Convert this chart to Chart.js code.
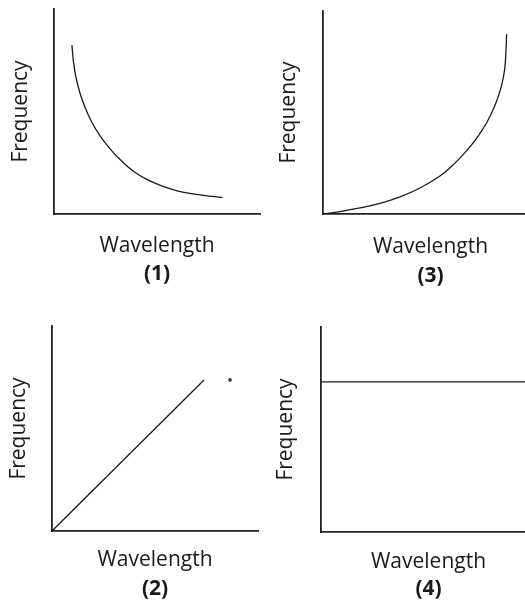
<!DOCTYPE html>
<html>
<head>
<meta charset="utf-8">
<script src="https://cdn.jsdelivr.net/npm/chart.js@4.4.1/dist/chart.umd.min.js"></script>
<style>
  html, body { margin: 0; padding: 0; background: #fff; overflow: hidden; }
  #wrap { position: relative; width: 525px; height: 600px; overflow: hidden; }
  canvas { position: absolute; }
</style>
</head>
<body>
<div id="wrap">
  <canvas id="c1" width="262" height="300" style="left:0;top:0"></canvas>
  <canvas id="c3" width="276" height="300" style="left:262px;top:0"></canvas>
  <canvas id="c2" width="262" height="300" style="left:0;top:300px"></canvas>
  <canvas id="c4" width="274" height="300" style="left:262px;top:300px"></canvas>
</div>
<script>
// (1) frequency falls off as wavelength grows
const wave1 = [0.87, 0.94, 1.06, 1.25, 1.50, 1.83, 2.23, 2.70, 3.23, 3.82, 4.48, 5.23, 6.02, 6.83, 7.65, 8.18];
const freq1 = [8.24, 7.47, 6.70, 5.94, 5.22, 4.49, 3.82, 3.20, 2.63, 2.11, 1.70, 1.37, 1.12, 0.97, 0.86, 0.81];

// (2) straight line from the origin
const wave2 = [0, 7.38];
const freq2 = [0, 7.37];
const speck2 = [8.64, 7.37]; // stray dot on the scan

// (3) slow rise, then steep
const wave3 = [0, 0.79, 1.72, 2.65, 3.58, 4.51, 5.44, 6.01, 6.53, 7.01, 7.44, 7.80, 8.09, 8.31, 8.45, 8.51, 8.54];
const freq3 = [0, 0.12, 0.30, 0.52, 0.84, 1.28, 1.87, 2.38, 2.94, 3.54, 4.19, 4.88, 5.60, 6.35, 7.13, 8.01, 8.86];

// (4) constant
const wave4 = [0, 10];
const freq4 = [7.32, 7.32];

const panelLabels = ['(1)', '(2)', '(3)', '(4)'];
const xTitle = 'Wavelength';
const yTitle = 'Frequency';

Chart.defaults.font.family = "'Open Sans', sans-serif";
const ink = '#1a1a1a';

function toPoints(xs, ys) {
    return xs.map((x, i) => ({ x: x, y: ys[i] }));
}

function curve(xs, ys) {
    return {
        data: toPoints(xs, ys),
        borderColor: ink,
        borderWidth: 1.3,
        pointRadius: 0,
        fill: false,
        tension: 0.4
    };
}

function makePanel(id, datasets, p) {
    new Chart(document.getElementById(id), {
        type: 'line',
        data: { datasets: datasets },
        options: {
            responsive: false,
            animation: false,
            devicePixelRatio: 1,
            layout: { padding: p.layout },
            plugins: {
                legend: { display: false },
                tooltip: { enabled: false },
                title: {
                    display: true,
                    text: p.label,
                    position: 'bottom',
                    fullSize: false,
                    color: ink,
                    font: { size: 21, weight: 'bold', lineHeight: 1 },
                    padding: { top: p.labelPad, bottom: 0 }
                }
            },
            scales: {
                x: {
                    type: 'linear', min: 0, max: 10,
                    ticks: { display: false },
                    grid: { display: false, drawTicks: false },
                    border: { display: true, color: '#222', width: 1.8 },
                    title: {
                        display: true, text: xTitle, color: ink,
                        font: { size: 21, lineHeight: 1 },
                        padding: { top: p.xPad, bottom: 0 }
                    }
                },
                y: {
                    min: 0, max: 10,
                    ticks: { display: false },
                    grid: { display: false, drawTicks: false },
                    border: { display: true, color: '#222', width: 1.8 },
                    title: {
                        display: true, text: yTitle, color: ink,
                        font: { size: 21, lineHeight: 1 },
                        padding: p.yPad
                    }
                }
            }
        }
    });
}

makePanel('c1', [curve(wave1, freq1)], {
    label: panelLabels[0],
    layout: { left: 0, top: 9, right: 2, bottom: 15.5 },
    yPad: { top: 10.5, bottom: 22.5 },
    xPad: 21.5,
    labelPad: 7
});

makePanel('c2', [
    curve(wave2, freq2),
    { data: [{ x: speck2[0], y: speck2[1] }], showLine: false, pointRadius: 1.8,
      pointBackgroundColor: '#333', pointBorderWidth: 0 }
], {
    label: panelLabels[1],
    layout: { left: 0, top: 26, right: 4, bottom: 0 },
    yPad: { top: 8.5, bottom: 22.5 },
    xPad: 19,
    labelPad: 8
});

makePanel('c3', [curve(wave3, freq3)], {
    label: panelLabels[2],
    layout: { left: 0, top: 11, right: 0, bottom: 13.8 },
    yPad: { top: 16.5, bottom: 23.5 },
    xPad: 23,
    labelPad: 7.2
});

makePanel('c4', [curve(wave4, freq4)], {
    label: panelLabels[3],
    layout: { left: 0, top: 27, right: 0, bottom: 0 },
    yPad: { top: 13.5, bottom: 24.5 },
    xPad: 20,
    labelPad: 6
});
</script>
</body>
</html>
